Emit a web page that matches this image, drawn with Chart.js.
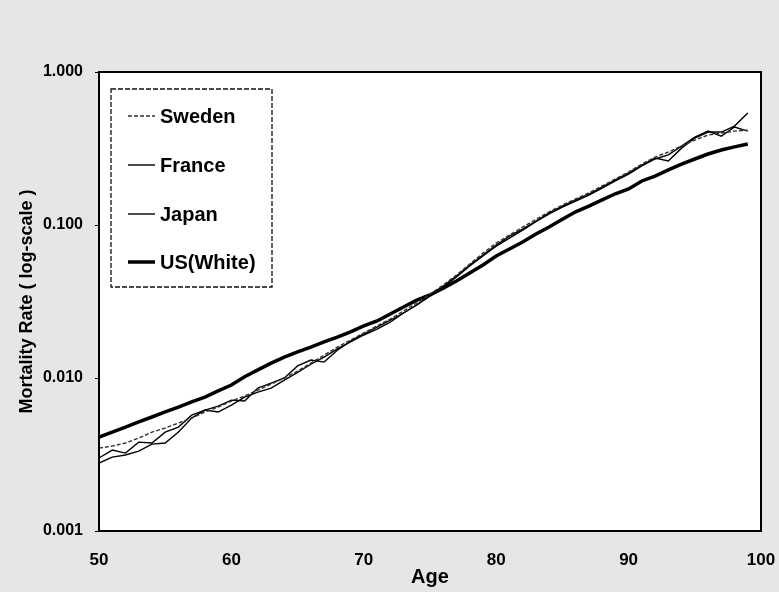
<!DOCTYPE html>
<html>
<head>
<meta charset="utf-8">
<script src="https://cdn.jsdelivr.net/npm/chart.js@4.4.1/dist/chart.umd.min.js"></script>
<style>
  html, body { margin: 0; padding: 0; background: #e6e6e6; }
  #wrap { width: 779px; height: 592px; }
</style>
</head>
<body>
<div id="wrap"><canvas id="chart" width="779" height="592"></canvas></div>
<script>
// ages 50..99
const ages = [50, 51, 52, 53, 54, 55, 56, 57, 58, 59, 60, 61, 62, 63, 64, 65, 66, 67, 68, 69,
  70, 71, 72, 73, 74, 75, 76, 77, 78, 79, 80, 81, 82, 83, 84, 85, 86, 87, 88, 89,
  90, 91, 92, 93, 94, 95, 96, 97, 98, 99];

const sweden = [0.00348, 0.00359, 0.00376, 0.00405, 0.00443, 0.00471, 0.00508, 0.00547, 0.00599, 0.00646,
  0.00707, 0.00762, 0.00834, 0.00912, 0.0100, 0.0111, 0.0125, 0.0141, 0.0159, 0.0177,
  0.0197, 0.0219, 0.0243, 0.0274, 0.0309, 0.0354, 0.0405, 0.0471, 0.0555, 0.0655,
  0.0762, 0.0859, 0.0969, 0.109, 0.122, 0.135, 0.148, 0.162, 0.180, 0.200,
  0.222, 0.250, 0.278, 0.300, 0.328, 0.359, 0.387, 0.399, 0.411, 0.417];

const france = [0.00300, 0.00338, 0.00323, 0.00381, 0.00376, 0.00443, 0.00478, 0.00572, 0.00617, 0.00655,
  0.00717, 0.00707, 0.00859, 0.00926, 0.0100, 0.0120, 0.0131, 0.0127, 0.0152, 0.0174,
  0.0194, 0.0215, 0.0239, 0.0266, 0.0300, 0.0348, 0.0399, 0.0464, 0.0547, 0.0636,
  0.0739, 0.0846, 0.0940, 0.106, 0.120, 0.133, 0.146, 0.159, 0.177, 0.197,
  0.219, 0.246, 0.274, 0.262, 0.318, 0.370, 0.405, 0.405, 0.443, 0.539];

const japan = [0.00278, 0.00304, 0.00314, 0.00333, 0.00370, 0.00376, 0.00443, 0.00547, 0.00617, 0.00599,
  0.00665, 0.00750, 0.00809, 0.00859, 0.00969, 0.0109, 0.0123, 0.0137, 0.0155, 0.0172,
  0.0191, 0.0209, 0.0232, 0.0266, 0.0300, 0.0343, 0.0393, 0.0457, 0.0539, 0.0627,
  0.0728, 0.0821, 0.0926, 0.105, 0.118, 0.131, 0.143, 0.157, 0.174, 0.194,
  0.215, 0.243, 0.270, 0.287, 0.328, 0.376, 0.411, 0.381, 0.437, 0.411];

const usWhite = [0.00411, 0.00443, 0.00478, 0.00516, 0.00556, 0.00600, 0.00646, 0.00697, 0.00751, 0.00823,
  0.00900, 0.0102, 0.0113, 0.0125, 0.0137, 0.0148, 0.0159, 0.0172, 0.0185, 0.0200,
  0.0219, 0.0236, 0.0262, 0.0291, 0.0323, 0.0349, 0.0387, 0.0430, 0.0486, 0.0548,
  0.0627, 0.0697, 0.0774, 0.0874, 0.0970, 0.109, 0.122, 0.133, 0.146, 0.160,
  0.172, 0.194, 0.209, 0.229, 0.250, 0.270, 0.291, 0.309, 0.324, 0.338];

const yTicks = [0.001, 0.01, 0.1, 1];
const yTickLabels = ['0.001', '0.010', '0.100', '1.000'];
const xTicks = [50, 60, 70, 80, 90, 100];

const FONT = '"Liberation Sans", Arial, Helvetica, sans-serif';

function pts(vals) {
  return ages.map((a, i) => ({ x: a, y: vals[i] }));
}

// page background, white plot area, frame and the boxed legend
const framePlugin = {
  id: 'frame',
  beforeDraw(chart) {
    const { ctx, chartArea: a } = chart;
    ctx.save();
    ctx.fillStyle = '#e6e6e6';
    ctx.fillRect(0, 0, chart.width, chart.height);
    ctx.fillStyle = '#fff';
    ctx.fillRect(a.left, a.top, a.right - a.left, a.bottom - a.top);
    ctx.restore();
  },
  afterDatasetsDraw(chart) {
    const { ctx, chartArea: a } = chart;
    ctx.save();
    ctx.strokeStyle = '#000';
    ctx.lineWidth = 2;
    ctx.strokeRect(a.left, a.top, a.right - a.left, a.bottom - a.top);

    // legend
    ctx.fillStyle = '#fff';
    ctx.fillRect(111, 89, 161, 198);
    ctx.lineWidth = 1.3;
    ctx.setLineDash([5, 2]);
    ctx.strokeStyle = '#111';
    ctx.strokeRect(111, 89, 161, 198);
    const rows = [116, 165, 214, 262];
    chart.data.datasets.forEach((ds, i) => {
      const y = rows[i];
      ctx.setLineDash(ds.borderDash || []);
      ctx.strokeStyle = ds.borderColor;
      ctx.lineWidth = ds.borderWidth;
      ctx.beginPath();
      ctx.moveTo(128, y);
      ctx.lineTo(155, y);
      ctx.stroke();
      ctx.setLineDash([]);
      ctx.fillStyle = '#000';
      ctx.font = 'bold 20px ' + FONT;
      ctx.textBaseline = 'middle';
      ctx.textAlign = 'left';
      ctx.fillText(ds.label, 160, y + 1);
    });
    ctx.restore();
  }
};

new Chart(document.getElementById('chart'), {
  type: 'line',
  data: {
    datasets: [
      { label: 'Sweden', data: pts(sweden), borderColor: '#333', borderWidth: 1.4, borderDash: [4, 2] },
      { label: 'France', data: pts(france), borderColor: '#000', borderWidth: 1.4 },
      { label: 'Japan', data: pts(japan), borderColor: '#000', borderWidth: 1.4 },
      { label: 'US(White)', data: pts(usWhite), borderColor: '#000', borderWidth: 3.5 }
    ]
  },
  options: {
    responsive: false,
    devicePixelRatio: 1,
    animation: false,
    elements: { point: { radius: 0 }, line: { tension: 0, fill: false } },
    layout: { padding: { left: 0, right: 18, top: 72, bottom: 0 } },
    plugins: { legend: { display: false }, tooltip: { enabled: false } },
    scales: {
      x: {
        type: 'linear',
        min: 50,
        max: 100,
        afterFit: s => { s.height = 61; s.paddingLeft = 0; s.paddingRight = 0; },
        afterBuildTicks: s => { s.ticks = xTicks.map(v => ({ value: v })); },
        grid: { display: false, drawTicks: false },
        border: { display: false },
        ticks: { padding: 19, color: '#000', font: { family: FONT, size: 17, weight: 'bold' } },
        title: {
          display: true, text: 'Age', color: '#000',
          font: { family: FONT, size: 20, weight: 'bold' },
          padding: { top: 0, bottom: 3 }
        }
      },
      y: {
        type: 'logarithmic',
        min: 0.001,
        max: 1,
        afterFit: s => { s.width = 99; s.paddingTop = 0; s.paddingBottom = 0; },
        afterBuildTicks: s => { s.ticks = yTicks.map(v => ({ value: v })); },
        grid: { drawOnChartArea: false, drawTicks: true, tickLength: 4, color: '#000' },
        border: { display: false },
        ticks: {
          padding: 12, color: '#000',
          font: { family: FONT, size: 16, weight: 'bold' },
          callback: v => yTickLabels[yTicks.indexOf(v)] ?? ''
        },
        title: {
          display: true, text: 'Mortality Rate ( log-scale )', color: '#000',
          font: { family: FONT, size: 18, weight: 'bold' },
          padding: { top: 16, bottom: 0 }
        }
      }
    }
  },
  plugins: [framePlugin]
});
</script>
</body>
</html>
